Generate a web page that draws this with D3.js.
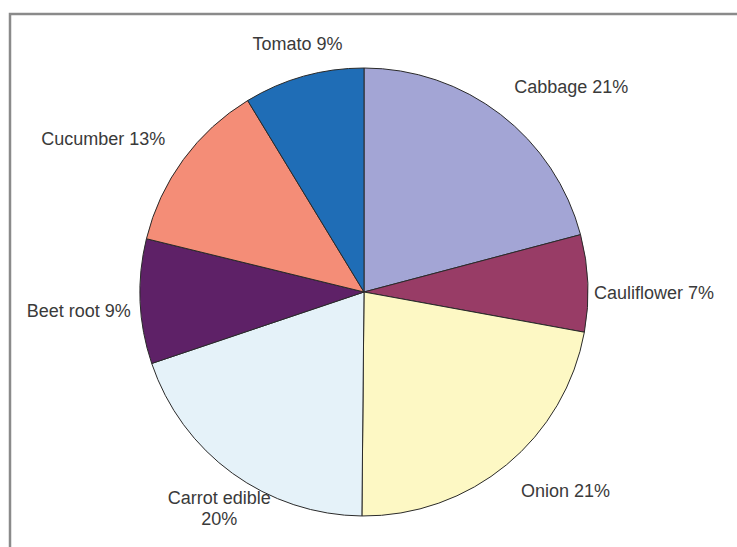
<!DOCTYPE html>
<html>
<head>
<meta charset="utf-8">
<script src="https://cdn.jsdelivr.net/npm/d3@7"></script>
<style>
  html, body { margin: 0; padding: 0; background: #ffffff; }
  svg { display: block; }
</style>
</head>
<body>
<script>
// ---- Data ----
const categories = ["Cabbage", "Cauliflower", "Onion", "Carrot edible", "Beet root", "Cucumber", "Tomato"];
const shares     = [20.9, 7.0, 22.3, 19.7, 9.0, 12.5, 8.7];           // measured slice sizes (%)
const pctLabels  = ["21%", "7%", "21%", "20%", "9%", "13%", "9%"];     // printed percentages
const colors     = ["#a3a5d5", "#983c66", "#fdf8c4", "#e5f2f9", "#5e2167", "#f48d77", "#1f6db6"];

const W = 737, H = 547;
const cx = 364, cy = 292, R = 224;

const svg = d3.select("body").append("svg")
  .attr("width", W).attr("height", H);

// frame
svg.append("rect")
  .attr("x", 10).attr("y", 14)
  .attr("width", W + 10).attr("height", H + 10)
  .attr("fill", "none").attr("stroke", "#8a8a8a").attr("stroke-width", 2.5);

const data = categories.map((c, i) => ({ name: c, value: shares[i], pct: pctLabels[i], color: colors[i] }));

const pie = d3.pie().value(d => d.value).sort(null);
const arcs = pie(data);
const arc = d3.arc().innerRadius(0).outerRadius(R);

const g = svg.append("g").attr("transform", `translate(${cx},${cy})`);

g.selectAll("path.slice")
  .data(arcs)
  .join("path")
  .attr("class", "slice")
  .attr("d", arc)
  .attr("fill", d => d.data.color)
  .attr("stroke", "#2a2a2a")
  .attr("stroke-width", 1)
  .attr("stroke-linejoin", "round");

// labels
const fontSize = 18, lineH = 21;
const labelR = R * 1.1;
arcs.forEach(d => {
  const a = (d.startAngle + d.endAngle) / 2;
  const s = Math.sin(a), c = Math.cos(a);
  const full = d.data.name + " " + d.data.pct;
  const lines = full.length > 15 ? [d.data.name, d.data.pct] : [full];
  let px = labelR * s, py = -labelR * c;
  let anchor;
  if (lines.length > 1 || Math.abs(s) < 0.3) {
    anchor = "middle";
  } else {
    anchor = s > 0 ? "start" : "end";
  }
  let blockH = lines.length * lineH;
  let centerY;
  if (anchor === "middle") {
    centerY = c > 0 ? py - blockH / 2 : py + blockH / 2 - 4;
  } else if (Math.abs(s) > 0.9) {
    // near-horizontal labels hang just below the mid-angle point, close to the rim
    const ry = -R * c;
    centerY = ry + 10;
    const edge = Math.sqrt(Math.max(0, R * R - centerY * centerY));
    px = s > 0 ? edge + 6 : -(edge + 10);
  } else {
    centerY = py - c * 12;
  }
  const t = g.append("text")
    .attr("text-anchor", anchor)
    .attr("font-family", "'Liberation Sans', Arial, Helvetica, sans-serif")
    .attr("font-size", fontSize)
    .attr("fill", "#3a3a3a");
  lines.forEach((ln, i) => {
    t.append("tspan")
      .attr("x", px)
      .attr("y", centerY - blockH / 2 + lineH * i + lineH / 2)
      .attr("dominant-baseline", "central")
      .text(ln);
  });
});
</script>
</body>
</html>
